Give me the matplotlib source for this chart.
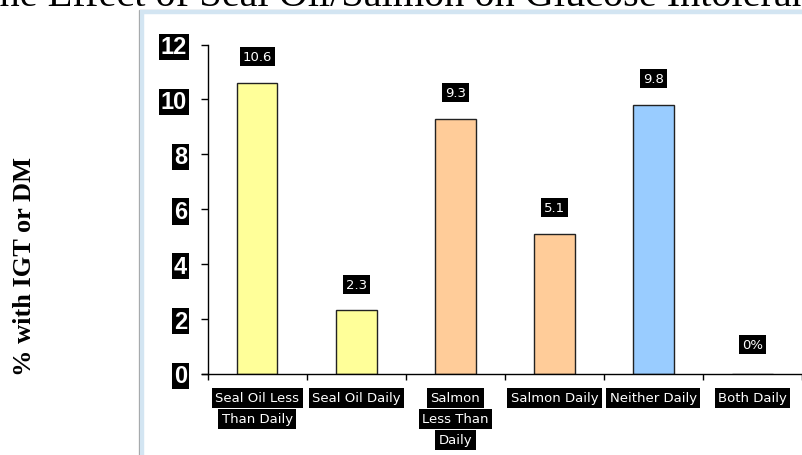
import matplotlib
matplotlib.use("Agg")
import matplotlib.pyplot as plt
from matplotlib.patches import Rectangle
import numpy as np

# data
categories = ["Seal Oil Less\nThan Daily", "Seal Oil Daily", "Salmon\nLess Than\nDaily",
              "Salmon Daily", "Neither Daily", "Both Daily"]
values = [10.6, 2.3, 9.3, 5.1, 9.8, 0.0]
value_labels = ["10.6", "2.3", "9.3", "5.1", "9.8", "0%"]
bar_colors = ["#ffff99", "#ffff99", "#ffcc99", "#ffcc99", "#99ccff", "#99ccff"]
y_ticks = [0, 2, 4, 6, 8, 10, 12]

W, H = 802, 456
fig = plt.figure(figsize=(W / 100, H / 100), dpi=100)
fig.patch.set_facecolor("white")

# panel frame (gray line + light blue band)
fig.patches.append(Rectangle((138.5 / W, -0.1), 1.2, (H - 10.5) / H + 0.1,
                             transform=fig.transFigure, fill=False,
                             edgecolor="#9a9a9a", linewidth=0.9))
fig.patches.append(Rectangle((141.5 / W, -0.1), 1.2, (H - 13.0) / H + 0.1,
                             transform=fig.transFigure, fill=False,
                             edgecolor="#d3e5f2", linewidth=3.2))

# title, cut off by the top edge as in the source slide
fig.text(-25 / W, 1 - 6 / H, "The Effect of Seal Oil/Salmon on Glucose Intolerance",
         family="Liberation Serif", fontsize=29.0, ha="left", va="baseline", color="black")

ax = fig.add_axes([202 / W, 81.5 / H, 600 / W, 329 / H])
ax.set_facecolor("none")

x = np.arange(len(values)) + 0.5
ax.bar(x, values, width=0.405, color=bar_colors, edgecolor="#222222", linewidth=1.0, zorder=2)

ax.set_xlim(-0.06, 6)
ax.set_ylim(0, 12)

for s in ["top", "right"]:
    ax.spines[s].set_visible(False)
ax.spines["left"].set_position(("data", 0))
ax.spines["left"].set_linewidth(1.0)
ax.spines["bottom"].set_linewidth(1.0)

# y ticks
ax.set_yticks(y_ticks)
ax.set_yticklabels([str(t) for t in y_ticks], family="Liberation Sans", fontweight="bold",
                   fontsize=17, color="white")
for lab in ax.get_yticklabels():
    lab.set_bbox(dict(facecolor="black", edgecolor="none", pad=1.2))
ax.tick_params(axis="y", direction="out", length=5, width=1.0, pad=10)

# x ticks at category boundaries, labels drawn per line below
ax.set_xticks(np.arange(0, 7))
ax.set_xticklabels([])
ax.tick_params(axis="x", direction="out", length=4, width=1.0)

for xi, cat in zip(x, categories):
    for i, line in enumerate(cat.split("\n")):
        ax.annotate(line, xy=(xi, 0), xycoords=("data", "axes fraction"),
                    xytext=(0, -24.5 - 21 * i), textcoords="offset pixels",
                    ha="center", va="center", fontsize=9.5, color="white",
                    family="DejaVu Sans",
                    bbox=dict(facecolor="black", edgecolor="none", pad=2.5),
                    annotation_clip=False)

# value labels above bars
for xi, v, lab in zip(x, values, value_labels):
    ax.annotate(lab, xy=(xi, v), xytext=(0, 26 if v > 0 else 29), textcoords="offset pixels",
                ha="center", va="center", fontsize=9.5, color="white", family="DejaVu Sans",
                bbox=dict(facecolor="black", edgecolor="none", pad=2.2))

fig.text(25 / W, 1 - 266 / H, "% with IGT or DM", rotation=90, family="Liberation Serif",
         fontweight="bold", fontsize=19, ha="center", va="center", color="black")

fig.savefig("out.png", dpi=100)
